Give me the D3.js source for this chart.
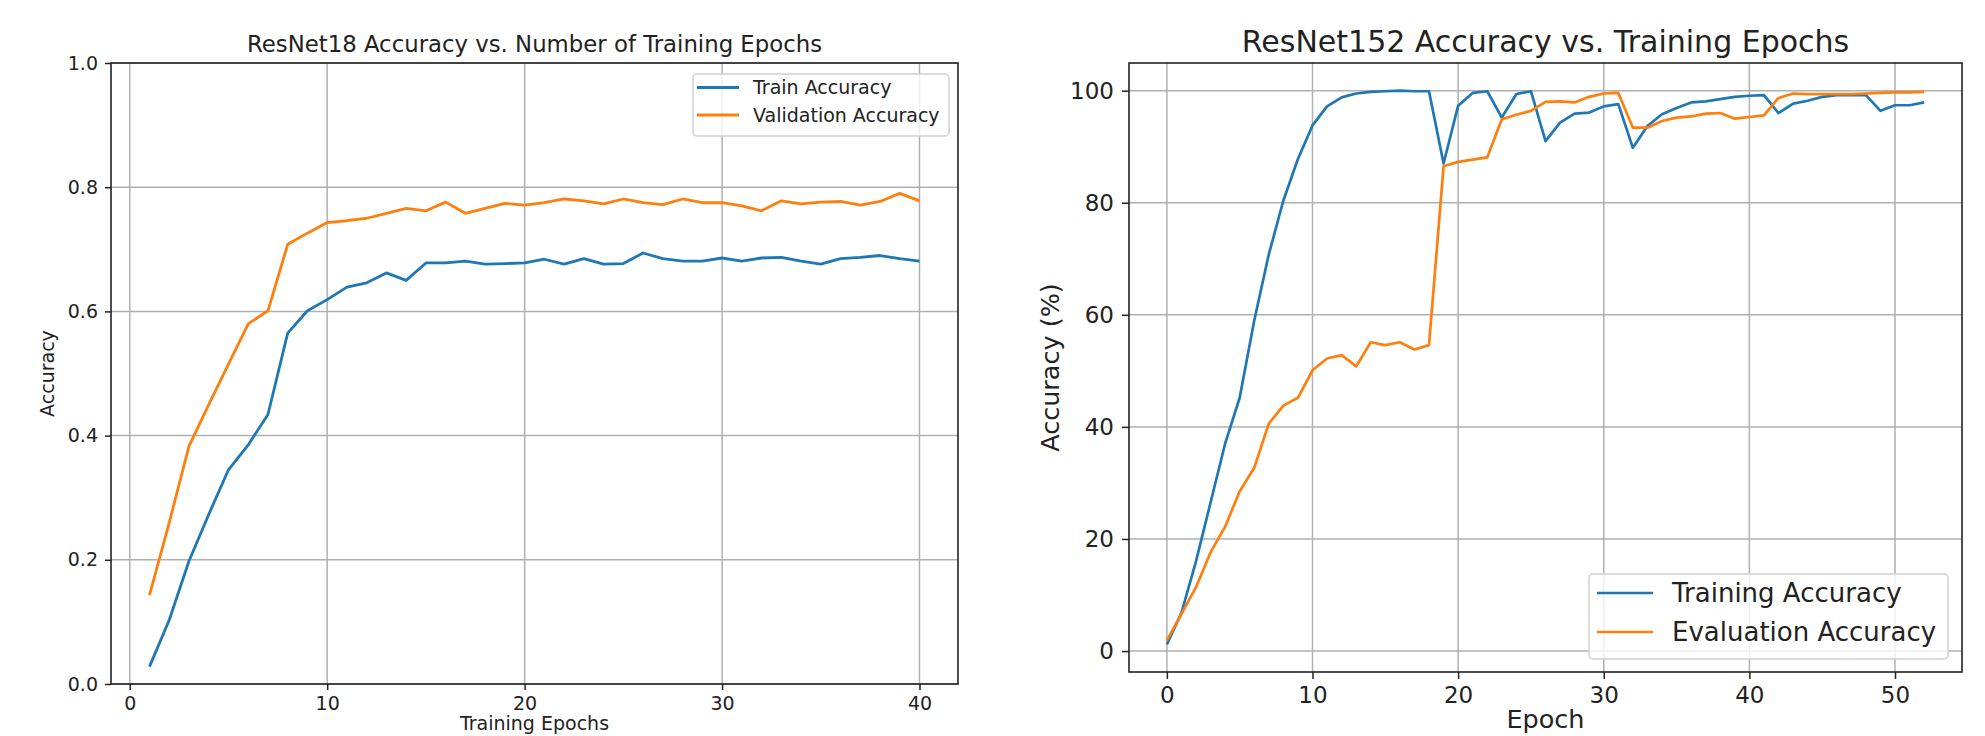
<!DOCTYPE html>
<html>
<head>
<meta charset="utf-8">
<script src="https://cdn.jsdelivr.net/npm/d3@7"></script>
<style>
body { margin: 0; background: #fff; }
text { font-family: "DejaVu Sans", sans-serif; fill: #222; }
</style>
</head>
<body>
<div id="chart"></div>
<script>
// data - ResNet18
const r18Epochs = [1,2,3,4,5,6,7,8,9,10,11,12,13,14,15,16,17,18,19,20,
    21,22,23,24,25,26,27,28,29,30,31,32,33,34,35,36,37,38,39,40];
const r18Train = [0.028,0.103,0.198,0.273,0.345,0.385,0.434,0.565,0.601,0.619,
    0.639,0.646,0.662,0.650,0.678,0.678,0.681,0.676,0.677,0.678,
    0.684,0.676,0.685,0.676,0.677,0.694,0.685,0.681,0.681,0.686,
    0.681,0.686,0.687,0.681,0.676,0.685,0.687,0.690,0.685,0.681];
const r18Val = [0.143,0.260,0.383,0.450,0.515,0.580,0.601,0.708,0.726,0.743,
    0.746,0.750,0.758,0.766,0.762,0.776,0.758,0.766,0.774,0.771,
    0.775,0.781,0.778,0.773,0.781,0.775,0.772,0.781,0.775,0.775,
    0.770,0.762,0.778,0.773,0.776,0.777,0.771,0.777,0.790,0.778];
const r18XTicks = [0,10,20,30,40];
const r18YTicks = [0,0.2,0.4,0.6,0.8,1.0];
const r18Labels = ['Train Accuracy','Validation Accuracy'];

// data - ResNet152
const r152Epochs = [0,1,2,3,4,5,6,7,8,9,10,11,12,13,14,15,16,17,18,19,20,
    21,22,23,24,25,26,27,28,29,30,31,32,33,34,35,36,37,38,39,40,
    41,42,43,44,45,46,47,48,49,50,51,52];
const r152Train = [1.2,6.8,16.0,26.5,37.0,45.2,59.0,70.8,80.4,87.8,93.8,
    97.2,98.8,99.5,99.8,99.9,100.0,99.9,99.9,87.0,97.3,
    99.6,99.9,95.2,99.4,99.9,91.0,94.3,95.9,96.1,97.2,
    97.6,89.8,93.7,95.8,96.9,97.9,98.1,98.5,98.9,99.1,
    99.2,96.0,97.7,98.2,98.9,99.2,99.2,99.2,96.4,97.4,97.4,97.9];
const r152Eval = [1.9,6.6,11.4,17.6,22.2,28.5,32.7,40.6,43.8,45.2,50.1,
    52.2,52.8,50.8,55.1,54.6,55.1,53.8,54.6,86.5,87.3,
    87.7,88.1,94.9,95.7,96.4,98.0,98.1,97.9,98.9,99.5,
    99.6,93.4,93.4,94.6,95.2,95.4,95.9,96.0,95.0,95.3,
    95.6,98.7,99.5,99.4,99.4,99.4,99.4,99.5,99.6,99.7,99.7,99.8];
const r152XTicks = [0,10,20,30,40,50];
const r152YTicks = [0,20,40,60,80,100];
const r152Labels = ['Training Accuracy','Evaluation Accuracy'];

const BLUE = '#1f77b4';
const ORANGE = '#ff7f0e';

// matplotlib style 5% margins
const pad = (vals) => {
    const ext = d3.extent(vals);
    const m = (ext[1] - ext[0]) * 0.05;
    return [ext[0] - m, ext[1] + m];
}

const svg = d3.select('#chart').append('svg')
    .attr('width', 1985)
    .attr('height', 736)
    .style('background-color', 'white');

const drawPanel = (cfg) => {
    const x = d3.scaleLinear().domain(cfg.xDomain).range([cfg.left, cfg.right]);
    const y = d3.scaleLinear().domain(cfg.yDomain).range([cfg.bottom, cfg.top]);
    const g = svg.append('g');

    // grid
    g.append('g').selectAll('line')
        .data(cfg.xTicks)
        .enter().append('line')
        .attr('x1', d => x(d)).attr('x2', d => x(d))
        .attr('y1', cfg.top).attr('y2', cfg.bottom)
        .attr('stroke', '#b0b0b0').attr('stroke-width', 1.5);
    g.append('g').selectAll('line')
        .data(cfg.yTicks)
        .enter().append('line')
        .attr('x1', cfg.left).attr('x2', cfg.right)
        .attr('y1', d => y(d)).attr('y2', d => y(d))
        .attr('stroke', '#b0b0b0').attr('stroke-width', 1.5);

    // series
    const line = d3.line().x(d => x(d[0])).y(d => y(d[1]));
    cfg.series.forEach(s => {
        g.append('path')
            .datum(cfg.xs.map((e, i) => [e, s.values[i]]))
            .attr('d', line)
            .attr('fill', 'none')
            .attr('stroke', s.color)
            .attr('stroke-width', cfg.lineWidth)
            .attr('stroke-linejoin', 'round');
    });

    // axes
    const xAxis = g.append('g')
        .attr('transform', `translate(0,${cfg.bottom})`)
        .call(d3.axisBottom(x).tickValues(cfg.xTicks).tickSize(cfg.tickLen)
            .tickPadding(cfg.tickPad).tickFormat(d3.format('d')));
    const yAxis = g.append('g')
        .attr('transform', `translate(${cfg.left},0)`)
        .call(d3.axisLeft(y).tickValues(cfg.yTicks).tickSize(cfg.tickLen)
            .tickPadding(cfg.tickPad).tickFormat(d3.format(cfg.yFormat)));
    [xAxis, yAxis].forEach(a => {
        a.select('.domain').remove();
        a.attr('font-family', null).attr('font-size', null);
        a.selectAll('.tick line').attr('stroke', '#222').attr('stroke-width', 1.5);
        a.selectAll('.tick text').attr('fill', null).style('font-size', cfg.tickFont + 'px');
    });

    // frame
    g.append('rect')
        .attr('x', cfg.left).attr('y', cfg.top)
        .attr('width', cfg.right - cfg.left).attr('height', cfg.bottom - cfg.top)
        .attr('fill', 'none').attr('stroke', '#222').attr('stroke-width', 1.6);

    // title + labels
    const cx = (cfg.left + cfg.right) / 2;
    g.append('text')
        .attr('x', cx).attr('y', cfg.titleY)
        .attr('text-anchor', 'middle')
        .style('font-size', cfg.titleFont + 'px')
        .text(cfg.title);
    g.append('text')
        .attr('x', cx).attr('y', cfg.xLabelY)
        .attr('text-anchor', 'middle')
        .style('font-size', cfg.labelFont + 'px')
        .text(cfg.xLabel);
    g.append('text')
        .attr('transform', `translate(${cfg.yLabelX},${(cfg.top + cfg.bottom) / 2}) rotate(-90)`)
        .attr('text-anchor', 'middle')
        .attr('dy', '0.35em')
        .style('font-size', cfg.labelFont + 'px')
        .text(cfg.yLabel);

    // legend
    const lg = cfg.legend;
    g.append('rect')
        .attr('x', lg.x).attr('y', lg.y)
        .attr('width', lg.w).attr('height', lg.h)
        .attr('rx', 4)
        .attr('fill', 'white').attr('fill-opacity', 0.8)
        .attr('stroke', '#d0d0d0').attr('stroke-width', 1.5);
    cfg.series.forEach((s, i) => {
        const ly = lg.rowY[i];
        g.append('line')
            .attr('x1', lg.lineX[0]).attr('x2', lg.lineX[1])
            .attr('y1', ly).attr('y2', ly)
            .attr('stroke', s.color).attr('stroke-width', cfg.lineWidth);
        g.append('text')
            .attr('x', lg.textX).attr('y', ly)
            .attr('dy', '0.36em')
            .style('font-size', lg.font + 'px')
            .text(s.label);
    });
}

drawPanel({
    left: 111, right: 958, top: 63, bottom: 684,
    xs: r18Epochs,
    xDomain: pad(r18Epochs), yDomain: [0, 1],
    xTicks: r18XTicks, yTicks: r18YTicks, yFormat: '.1f',
    series: [
        {values: r18Train, color: BLUE, label: r18Labels[0]},
        {values: r18Val, color: ORANGE, label: r18Labels[1]}
    ],
    lineWidth: 2.8, tickLen: 6, tickPad: 7, tickFont: 19,
    title: 'ResNet18 Accuracy vs. Number of Training Epochs', titleFont: 22.8, titleY: 52,
    xLabel: 'Training Epochs', xLabelY: 730,
    yLabel: 'Accuracy', yLabelX: 47, labelFont: 19,
    legend: {x: 693, y: 74, w: 256, h: 62, rowY: [87.5, 115], lineX: [697, 739], textX: 753, font: 19}
});

drawPanel({
    left: 1129, right: 1962, top: 63, bottom: 672,
    xs: r152Epochs,
    xDomain: pad(r152Epochs), yDomain: pad(r152Train.concat(r152Eval)),
    xTicks: r152XTicks, yTicks: r152YTicks, yFormat: 'd',
    series: [
        {values: r152Train, color: BLUE, label: r152Labels[0]},
        {values: r152Eval, color: ORANGE, label: r152Labels[1]}
    ],
    lineWidth: 2.7, tickLen: 7, tickPad: 8, tickFont: 23,
    title: 'ResNet152 Accuracy vs. Training Epochs', titleFont: 30, titleY: 52,
    xLabel: 'Epoch', xLabelY: 728,
    yLabel: 'Accuracy (%)', yLabelX: 1050, labelFont: 25.5,
    legend: {x: 1589, y: 574, w: 359, h: 85, rowY: [593, 632], lineX: [1597, 1653], textX: 1672, font: 26}
});
</script>
</body>
</html>
